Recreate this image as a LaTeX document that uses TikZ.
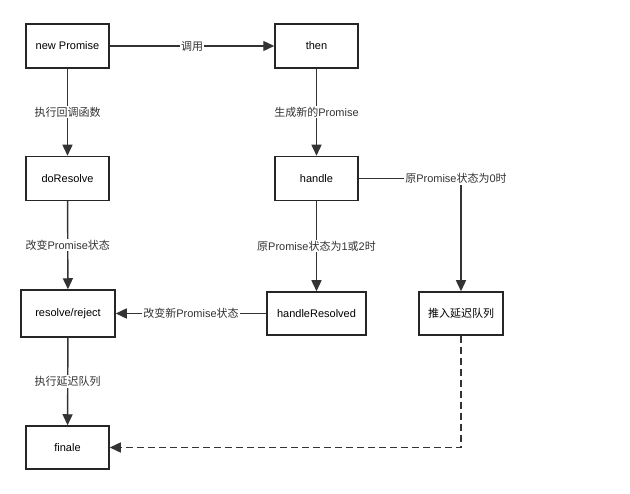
\documentclass[tikz,border=0pt]{standalone}
\usepackage{fontspec}
\setmainfont{Liberation Sans}
\newfontfamily\cjk{Noto Sans CJK SC}
\usetikzlibrary{arrows.meta}

\begin{document}
\begin{tikzpicture}[x=1pt,y=-1pt,
    font=\fontsize{11}{13}\selectfont,
    box/.style={draw=black!85,line width=1.5pt,minimum width=83pt,minimum height=44pt,inner sep=0pt},
    arr/.style={draw=black!80,line width=1.4pt,-{Triangle[length=11pt,width=10pt]}},
    lab/.style={fill=white,inner sep=1pt,text=black!80}]

    \useasboundingbox (0,0) rectangle (630,494);

    % these are the boxes
    \node[box] (newpromise) at (67.5,46) {new Promise};
    \node[box] (then) at (316.5,46) {then};
    \node[box] (doresolve) at (67.5,178.5) {doResolve};
    \node[box] (handle) at (316.5,178.5) {handle};
    \node[box,minimum width=94pt,minimum height=47pt] (resolve) at (68,313.5) {resolve/reject};
    \node[box,minimum width=99pt,minimum height=43pt] (handleresolved) at (316.5,313.5) {handleResolved};
    \node[box,minimum width=84pt,minimum height=43pt] (queue) at (461,313.5) {\cjk 推入延迟队列};
    \node[box,minimum height=43pt] (finale) at (67.5,447.5) {finale};

    % these are the arrows
    \draw[arr] (newpromise) -- node[lab] {\cjk 调用} (then);
    \draw[arr] (newpromise) -- node[lab] {\cjk 执行回调函数} (doresolve);
    \draw[arr] (then) -- node[lab] {{\cjk 生成新的}Promise} (handle);
    \draw[arr] (doresolve) -- node[lab] {{\cjk 改变}Promise{\cjk 状态}} (resolve);
    \draw[arr] (handle) -- node[lab] {{\cjk 原}Promise{\cjk 状态为}1{\cjk 或}2{\cjk 时}} (handleresolved);
    \draw[arr] (handleresolved) -- node[lab] {{\cjk 改变新}Promise{\cjk 状态}} (resolve);
    \draw[arr] (handle) -| node[lab,pos=0.5,xshift=-5pt] {{\cjk 原}Promise{\cjk 状态为}0{\cjk 时}} (queue);
    \draw[arr] (resolve) -- node[lab] {\cjk 执行延迟队列} (finale);
    \draw[arr,dash pattern=on 7pt off 4pt] (queue) |- (finale);

\end{tikzpicture}
\end{document}
